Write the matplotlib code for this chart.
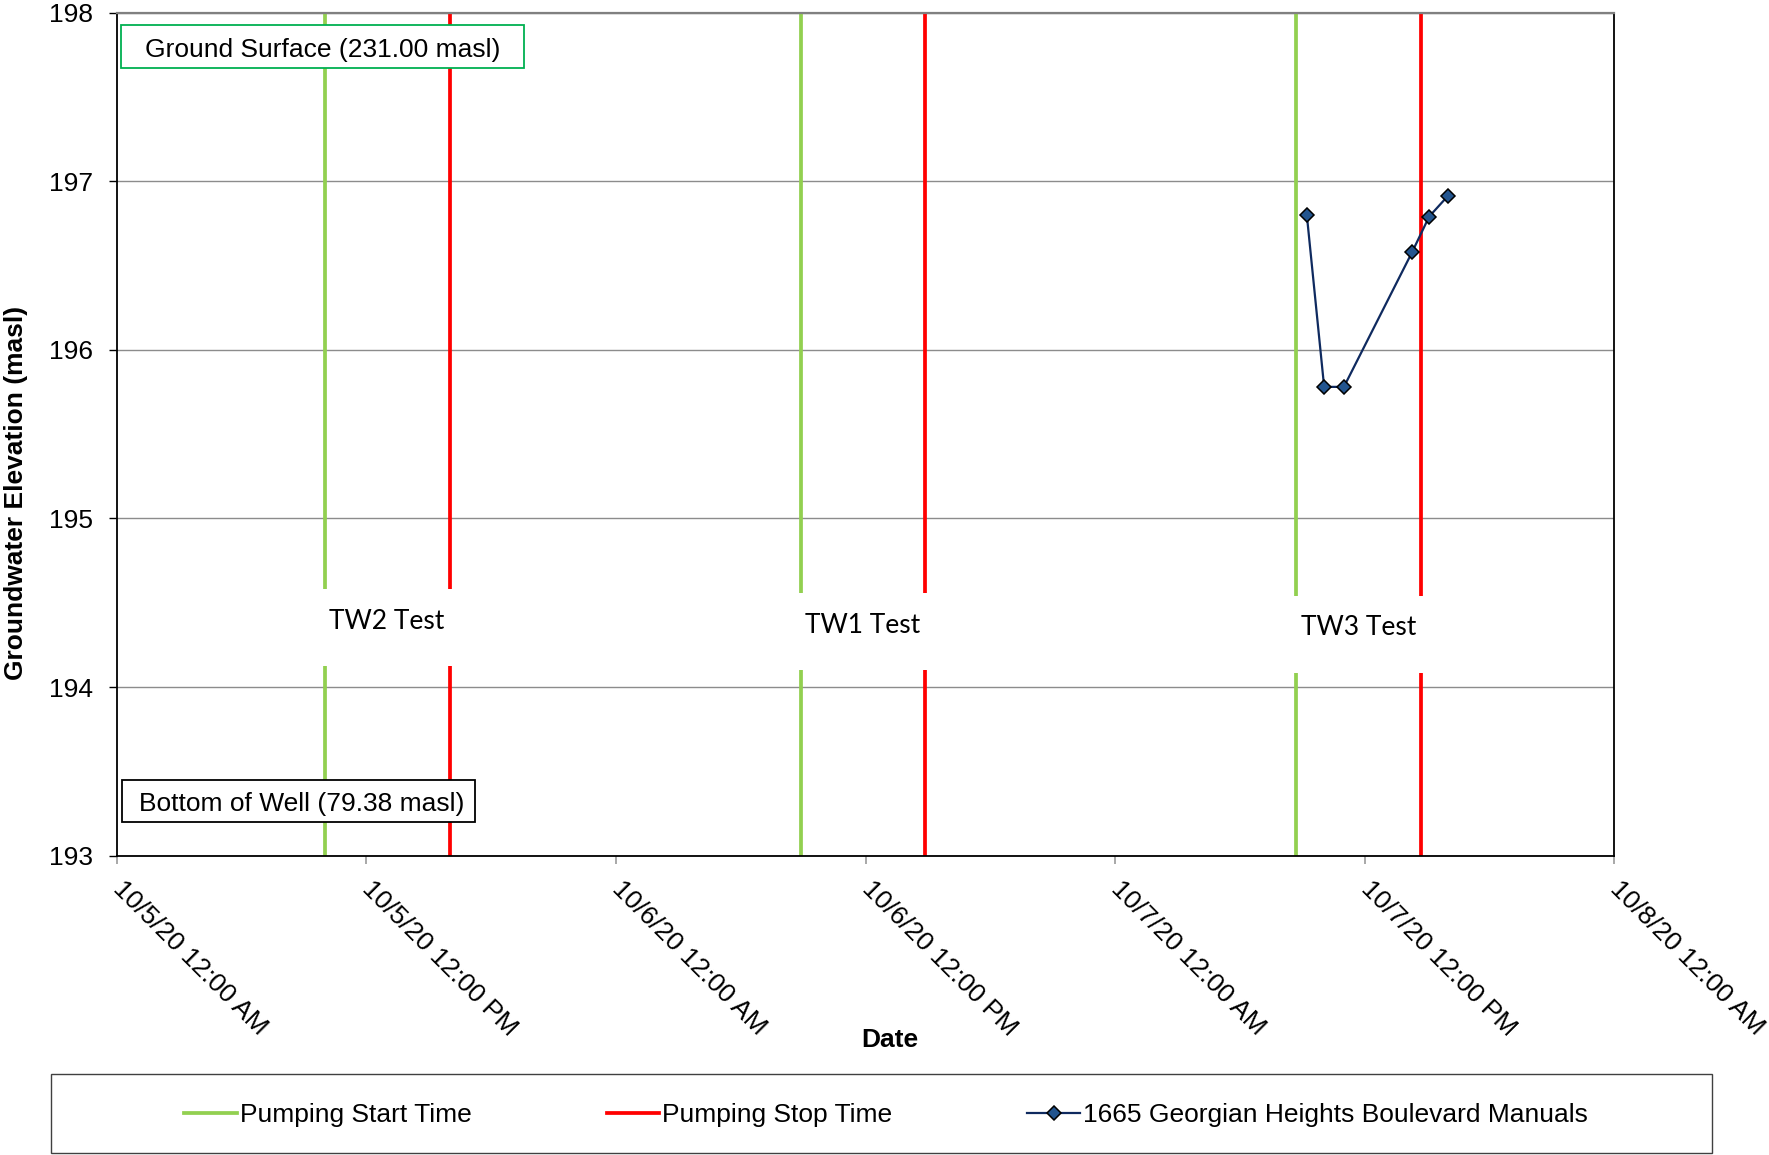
import datetime as dt
import matplotlib
matplotlib.use("Agg")
import matplotlib.pyplot as plt
import matplotlib.dates as mdates
from matplotlib.lines import Line2D
from matplotlib.patches import Rectangle

# ---- data ----
pump_start = [dt.datetime(2020, 10, 5, 10, 0),
              dt.datetime(2020, 10, 6, 8, 53),
              dt.datetime(2020, 10, 7, 8, 42)]
pump_stop = [dt.datetime(2020, 10, 5, 16, 0),
             dt.datetime(2020, 10, 6, 14, 53),
             dt.datetime(2020, 10, 7, 14, 42)]
test_names = ["TW2 Test", "TW1 Test", "TW3 Test"]
test_label_y = [194.39, 194.365, 194.355]
test_gap_y = [194.354, 194.33, 194.31]

manual_times = [dt.datetime(2020, 10, 7, 9, 13),
                dt.datetime(2020, 10, 7, 10, 3),
                dt.datetime(2020, 10, 7, 11, 0),
                dt.datetime(2020, 10, 7, 14, 17),
                dt.datetime(2020, 10, 7, 15, 6),
                dt.datetime(2020, 10, 7, 15, 59)]
manual_levels = [196.80, 195.78, 195.78, 196.58, 196.79, 196.91]

x_ticks = [dt.datetime(2020, 10, 5) + dt.timedelta(hours=12 * i) for i in range(7)]
x_tick_labels = ["10/5/20 12:00 AM", "10/5/20 12:00 PM", "10/6/20 12:00 AM",
                 "10/6/20 12:00 PM", "10/7/20 12:00 AM", "10/7/20 12:00 PM",
                 "10/8/20 12:00 AM"]
y_ticks = [193, 194, 195, 196, 197, 198]

ground_surface = "Ground Surface (231.00 masl)"
bottom_of_well = "Bottom of Well (79.38 masl)"

# ---- styling ----
plt.rcParams['font.family'] = ['Liberation Sans', 'DejaVu Sans']
FS = 19
W, H = 1769, 1155
fig = plt.figure(figsize=(W / 100, H / 100), dpi=100)

ax_l, ax_r, ax_t, ax_b = 116.7, 1614.3, 12.5, 855.7
ax = fig.add_axes([ax_l / W, 1 - ax_b / H, (ax_r - ax_l) / W, (ax_b - ax_t) / H])

green = "#92D050"
red = "#FF0000"
navy = "#0F2A5F"

for t in pump_start:
    ax.axvline(t, color=green, lw=2.7, zorder=2)
for t in pump_stop:
    ax.axvline(t, color=red, lw=2.7, zorder=2)

ax.plot(manual_times, manual_levels, color=navy, lw=1.6, marker="D",
        markersize=7.0, markerfacecolor="#23558F", markeredgecolor="black",
        markeredgewidth=1.1, zorder=5)

# test labels: a white box interrupts the pumping lines, label drawn on top
label_font = ["Lato", "DejaVu Sans"]
gap_half = 0.228            # half height of the white box, in masl
gap_margin = 0.03           # extra width either side of the pumping lines, in days
for s, e, name, yl, yg in zip(pump_start, pump_stop, test_names,
                              test_label_y, test_gap_y):
    xs, xe = mdates.date2num(s), mdates.date2num(e)
    ax.add_patch(Rectangle((xs - gap_margin, yg - gap_half),
                           (xe - xs) + 2 * gap_margin, 2 * gap_half,
                           facecolor="white", edgecolor="none", zorder=4))
    ax.text((xs + xe) / 2, yl, name, ha="center", va="center", fontsize=19,
            family=label_font, color="black", zorder=4.5)

ax.set_xlim(x_ticks[0], x_ticks[-1])
ax.set_ylim(y_ticks[0], y_ticks[-1])
ax.set_yticks(y_ticks)
ax.set_yticklabels([str(v) for v in y_ticks], fontsize=FS)
ax.set_xticks(x_ticks)
ax.set_xticklabels(x_tick_labels, fontsize=FS, rotation=-45, ha="left",
                   va="center", rotation_mode="anchor")

ax.tick_params(axis="y", direction="out", length=6, width=1, color="black", pad=11)
ax.tick_params(axis="x", direction="out", length=6, width=1.2, color="#9a9a9a", pad=15)

ax.yaxis.grid(True, color="#8c8c8c", lw=1.0, zorder=1)
ax.set_axisbelow(True)

for side in ("left", "bottom", "right"):
    ax.spines[side].set_color("black")
    ax.spines[side].set_linewidth(1.3)
ax.spines["top"].set_color("#808080")
ax.spines["top"].set_linewidth(1.6)

# annotation boxes
axw, axh = ax_r - ax_l, ax_b - ax_t
def ax_frac(px, py):
    return (px - ax_l) / axw, (ax_b - py) / axh

x0, y1 = ax_frac(121, 25)
x1, y0 = ax_frac(523.5, 68)
ax.add_patch(Rectangle((x0, y0), x1 - x0, y1 - y0, transform=ax.transAxes,
                       facecolor="white", edgecolor="#00B050", lw=1.3, zorder=6))
_, ty = ax_frac(0, 50.5)
ax.text((x0 + x1) / 2, ty, ground_surface, transform=ax.transAxes,
        ha="center", va="center", fontsize=FS, zorder=7)

x0, y1 = ax_frac(121.8, 780)
x1, y0 = ax_frac(475, 822)
ax.add_patch(Rectangle((x0, y0), x1 - x0, y1 - y0, transform=ax.transAxes,
                       facecolor="white", edgecolor="black", lw=1.3, zorder=6))
cx, ty = ax_frac(301.7, 804.5)
ax.text(cx, ty, bottom_of_well, transform=ax.transAxes,
        ha="center", va="center", fontsize=FS, zorder=7)

# axis titles
fig.text(890 / W, 1 - 1040 / H, "Date", ha="center", va="center",
         fontsize=FS, fontweight="bold")
fig.text(16 / W, 1 - 493 / H, "Groundwater Elevation (masl)", ha="center",
         va="center", rotation=90, fontsize=FS, fontweight="bold")

# legend with its own frame
fig.patches.append(Rectangle((51 / W, 1 - 1153 / H), 1661 / W, 79 / H,
                             transform=fig.transFigure, facecolor="white",
                             edgecolor="#404040", lw=1.0))
handles = [Line2D([], [], color=green, lw=2.7),
           Line2D([], [], color=red, lw=2.7),
           Line2D([], [], color=navy, lw=1.6, marker="D", markersize=7.0,
                  markerfacecolor="#23558F", markeredgecolor="black",
                  markeredgewidth=1.1)]
labels = ["Pumping Start Time", "Pumping Stop Time",
          "1665 Georgian Heights Boulevard Manuals"]
fig.legend(handles, labels, loc="center", bbox_to_anchor=(886 / W, 1 - 1115 / H),
           ncol=3, frameon=False, fontsize=FS, handlelength=2.0,
           handletextpad=0.1, columnspacing=5.12, numpoints=1,
           borderaxespad=0, borderpad=0)

fig.savefig("out.png", dpi=100)
